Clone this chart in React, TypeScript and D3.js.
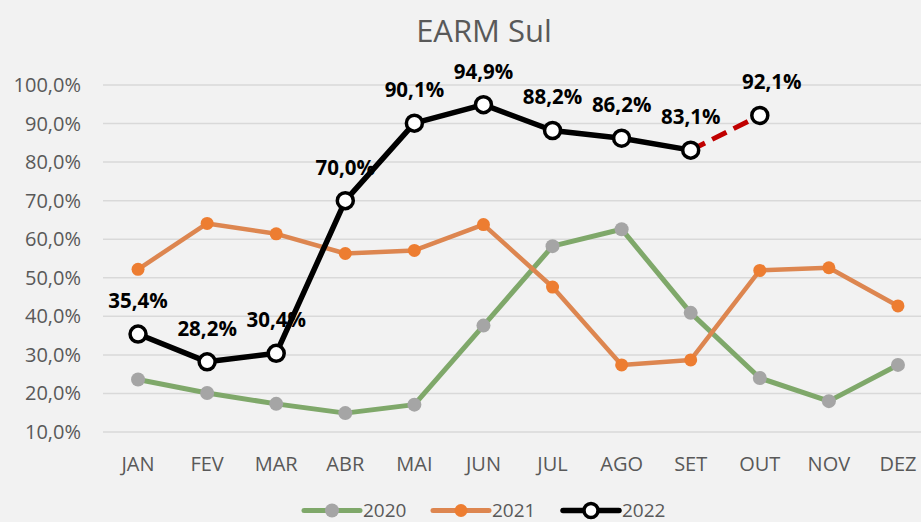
import React from "react";
import * as d3 from "d3";

const months = ["JAN", "FEV", "MAR", "ABR", "MAI", "JUN", "JUL", "AGO", "SET", "OUT", "NOV", "DEZ"];
const s2020 = [23.6, 20.1, 17.3, 14.9, 17.1, 37.6, 58.2, 62.6, 40.9, 24.0, 18.0, 27.4];
const s2021 = [52.2, 64.1, 61.4, 56.3, 57.1, 63.8, 47.6, 27.4, 28.7, 51.9, 52.6, 42.7];
const s2022 = [35.4, 28.2, 30.4, 70.0, 90.1, 94.9, 88.2, 86.2, 83.1];
const s2022proj = [83.1, 92.1];
const projMonths = ["SET", "OUT"];
const labels2022 = ["35,4%", "28,2%", "30,4%", "70,0%", "90,1%", "94,9%", "88,2%", "86,2%", "83,1%", "92,1%"];
const yTicks = [10, 20, 30, 40, 50, 60, 70, 80, 90, 100];
const legendNames = ["2020", "2021", "2022"];

const W = 921;
const H = 522;
const FONT = "'Open Sans', sans-serif";

export default function App() {
  const x = d3.scalePoint<string>().domain(months).range([103.5, 932.5]).padding(0.5);
  const y = d3.scaleLinear().domain([10, 100]).range([432, 85]);
  const line = d3
    .line<number>()
    .x((_, i) => x(months[i]) as number)
    .y((d) => y(d));
  const projLine = d3
    .line<number>()
    .x((_, i) => x(projMonths[i]) as number)
    .y((d) => y(d));
  const all2022 = [...s2022, s2022proj[1]];
  const fmt = (v: number) => v.toFixed(1).replace(".", ",") + "%";

  const legendX = [304, 433, 563];
  const legY = 510.5;

  return (
    <svg
      width={W}
      height={H}
      style={{ position: "absolute", left: 0, top: 0, background: "#f2f2f2", display: "block" }}
    >
      <rect x={0} y={0} width={W} height={H} fill="#f2f2f2" />
      <text x={484} y={42} textAnchor="middle" fontFamily={FONT} fontSize={31} fill="#595959">
        EARM Sul
      </text>
      {yTicks.map((t) => (
        <g key={t}>
          <line x1={103} x2={W} y1={y(t)} y2={y(t)} stroke="#d9d9d9" strokeWidth={1.5} />
          <text x={81} y={y(t) + 7} textAnchor="end" fontFamily={FONT} fontSize={20} fill="#595959">
            {fmt(t)}
          </text>
        </g>
      ))}
      {months.map((m) => (
        <text key={m} x={x(m)} y={470.5} textAnchor="middle" fontFamily={FONT} fontSize={20} fill="#595959">
          {m}
        </text>
      ))}
      {/* 2020 */}
      <path d={line(s2020) || ""} fill="none" stroke="#7fa86a" strokeWidth={5} strokeLinejoin="round" />
      {s2020.map((v, i) => (
        <circle key={i} cx={x(months[i])} cy={y(v)} r={7} fill="#a5a5a5" />
      ))}
      {/* 2021 */}
      <path d={line(s2021) || ""} fill="none" stroke="#dd8650" strokeWidth={4.5} strokeLinejoin="round" />
      {s2021.map((v, i) => (
        <circle key={i} cx={x(months[i])} cy={y(v)} r={6.5} fill="#ed7d31" />
      ))}
      {/* 2022 projection */}
      <path d={projLine(s2022proj) || ""} fill="none" stroke="#c00000" strokeWidth={5} strokeDasharray="16 8" />
      {/* 2022 */}
      <path d={line(s2022) || ""} fill="none" stroke="#000" strokeWidth={5.5} strokeLinejoin="round" />
      {all2022.map((v, i) => (
        <circle key={i} cx={x(months[i])} cy={y(v)} r={8} fill="#fff" stroke="#000" strokeWidth={3.5} />
      ))}
      {all2022.map((v, i) => (
        <text
          key={i}
          x={(x(months[i]) as number) + (i === 9 ? 12 : 0)}
          y={y(v) - 26}
          textAnchor="middle"
          fontFamily={FONT}
          fontSize={20.5}
          fontWeight="bold"
          fill="#000"
        >
          {labels2022[i]}
        </text>
      ))}
      {/* legend */}
      {legendNames.map((n, i) => {
        const lx = legendX[i];
        return (
          <g key={n}>
            <line
              x1={lx}
              x2={lx + 56}
              y1={legY}
              y2={legY}
              stroke={i === 0 ? "#7fa86a" : i === 1 ? "#dd8650" : "#000"}
              strokeWidth={i === 2 ? 5.5 : 5}
              strokeLinecap="round"
            />
            {i === 0 && <circle cx={lx + 28} cy={legY} r={7} fill="#a5a5a5" />}
            {i === 1 && <circle cx={lx + 28} cy={legY} r={6.5} fill="#ed7d31" />}
            {i === 2 && <circle cx={lx + 28} cy={legY} r={7} fill="#fff" stroke="#000" strokeWidth={3.5} />}
            <text x={lx + 59} y={legY + 6.5} fontFamily={FONT} fontSize={19} fill="#595959">
              {n}
            </text>
          </g>
        );
      })}
    </svg>
  );
}
